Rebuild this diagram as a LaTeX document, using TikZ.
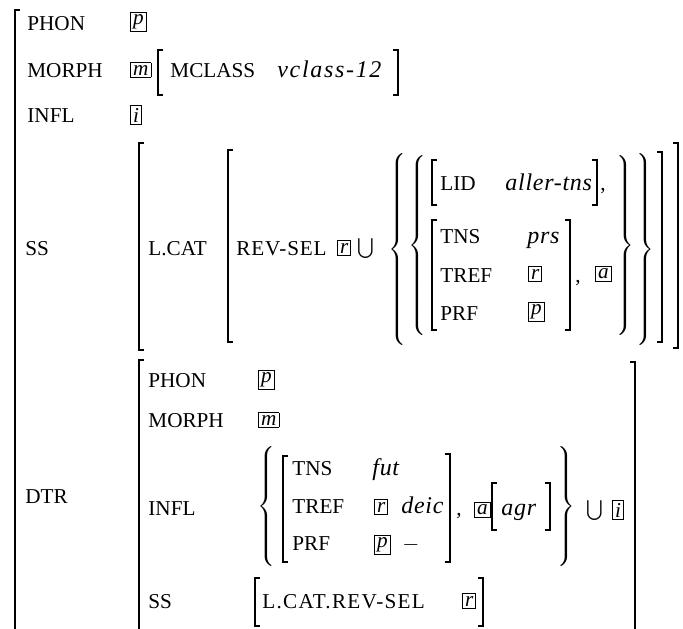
\documentclass[tikz,border=0pt]{standalone}
\usepackage{fontspec}
\setmainfont{Liberation Serif}

% boxed tags and set braces
\newcommand{\tagbox}[1]{{\setlength{\fboxsep}{1pt}\fbox{\itshape #1}}}
\newcommand{\openset}[1]{$\nulldelimiterspace=0pt\left\{\vcenter{\hbox{\rule{0pt}{#1}}}\right.$}
\newcommand{\closeset}[1]{$\nulldelimiterspace=0pt\left.\vcenter{\hbox{\rule{0pt}{#1}}}\right\}$}
% matrix brackets: x, top, bottom
\newcommand{\avmleft}[3]{\draw[brk] ({#1+5},#2) -- (#1,#2) -- (#1,#3) -- ({#1+5},#3);}
\newcommand{\avmright}[3]{\draw[brk] ({#1-5},#2) -- (#1,#2) -- (#1,#3) -- ({#1-5},#3);}

\begin{document}
\begin{tikzpicture}[
    x=0.5pt, y=-0.5pt,
    every node/.style={font=\fontsize{10.6}{13}\selectfont},
    attr/.style={anchor=base west, inner sep=0pt},
    val/.style={attr, font=\fontsize{12}{14}\selectfont\itshape\addfontfeature{LetterSpace=3}},
    tag/.style={anchor=west, inner sep=0pt},
    delim/.style={inner sep=0pt},
    brk/.style={line width=0.75pt}
]
    \useasboundingbox (0,0) rectangle (683,628);

    % outer matrix
    \draw[brk] (20,10) -- (15,10) -- (15,632);
    \node[attr] (phon) at (27,30) {PHON};
    \node[tag] (phonv) at (130,22) {\tagbox{p}};
    \node[attr] (morph) at (27,77) {MORPH};
    \node[tag] (morphv) at (130,70) {\tagbox{m}};
    \avmleft{158}{50}{95}
    \node[attr] (mclass) at (170,77) {MCLASS};
    \node[val] (mclassv) at (277,77) {\addfontfeature{LetterSpace=7}vclass-12};
    \avmright{398}{50}{95}
    \node[attr] (infl) at (27,122) {INFL};
    \node[tag] (inflv) at (130,115) {\tagbox{i}};

    % SS
    \node[attr] (ss) at (25,255) {SS};
    \avmleft{139}{143}{350}
    \node[attr] (lcat) at (148,255) {L.CAT};
    \avmleft{228}{150}{342}
    \node[attr] (revsel) at (236,255) {\addfontfeature{LetterSpace=4}REV-SEL};
    \node[tag] (revselv) at (337,248) {\tagbox{r}};
    \node[delim] (cup) at (366,248) {$\bigcup$};
    \node[delim] (setout) at (397,249) {\openset{97pt}};
    \node[delim] (setin) at (417,245) {\openset{90pt}};
    \avmleft{432}{160}{205}
    \node[attr] (lid) at (440,190) {LID};
    \node[val] (lidv) at (505,190) {aller-tns};
    \avmright{597}{160}{205}
    \node[attr] (comma1) at (600,190) {,};
    \avmleft{432}{220}{330}
    \node[attr] (tns) at (440,243) {TNS};
    \node[val] (tnsv) at (527,243) {prs};
    \node[attr] (tref) at (440,282) {TREF};
    \node[tag] (trefv) at (528,274) {\tagbox{r}};
    \node[attr] (prf) at (440,320) {PRF};
    \node[tag] (prfv) at (528,312) {\tagbox{p}};
    \avmright{570}{220}{330}
    \node[attr] (comma2) at (575,282) {,};
    \node[tag] (agrtag) at (595,274) {\tagbox{a}};
    \node[delim] (setinr) at (625,245) {\closeset{90pt}};
    \node[delim] (setoutr) at (645,249) {\closeset{97pt}};
    \avmright{662}{152}{342}
    \avmright{678}{143}{348}

    % DTR
    \node[attr] (dtr) at (25,503) {DTR};
    \draw[brk] (144,360) -- (139,360) -- (139,632);
    \draw[brk] (630,362) -- (635,362) -- (635,632);
    \node[attr] (dphon) at (148,387) {PHON};
    \node[tag] (dphonv) at (258,380) {\tagbox{p}};
    \node[attr] (dmorph) at (148,427) {MORPH};
    \node[tag] (dmorphv) at (258,420) {\tagbox{m}};
    \node[attr] (dinfl) at (148,515) {INFL};
    \node[delim] (dset) at (266,506) {\openset{63pt}};
    \avmleft{283}{456}{562}
    \node[attr] (dtns) at (292,475) {TNS};
    \node[val] (dtnsv) at (372,475) {fut};
    \node[attr] (dtref) at (292,513) {TREF};
    \node[tag] (dtreft) at (374,507) {\tagbox{r}};
    \node[val] (dtrefv) at (401,513) {deic};
    \node[attr] (dprf) at (292,550) {PRF};
    \node[tag] (dprft) at (374,545) {\tagbox{p}};
    \node[attr] (dprfv) at (402,550) {$-$};
    \avmright{450}{454}{562}
    \node[attr] (dcomma) at (456,515) {,};
    \node[tag] (dagrtag) at (474,510) {\tagbox{a}};
    \avmleft{492}{483}{530}
    \node[val] (dagr) at (501,515) {agr};
    \avmright{550}{483}{530}
    \node[delim] (dsetr) at (566,506) {\closeset{63pt}};
    \node[delim] (dcup) at (595,510) {$\bigcup$};
    \node[tag] (dinflv) at (612,510) {\tagbox{i}};
    \node[attr] (dss) at (148,608) {SS};
    \avmleft{255}{578}{626}
    \node[attr] (dssv) at (262,608) {\addfontfeature{LetterSpace=6}L.CAT.REV-SEL};
    \node[tag] (dssr) at (462,601) {\tagbox{r}};
    \avmright{483}{578}{626}
\end{tikzpicture}
\end{document}
